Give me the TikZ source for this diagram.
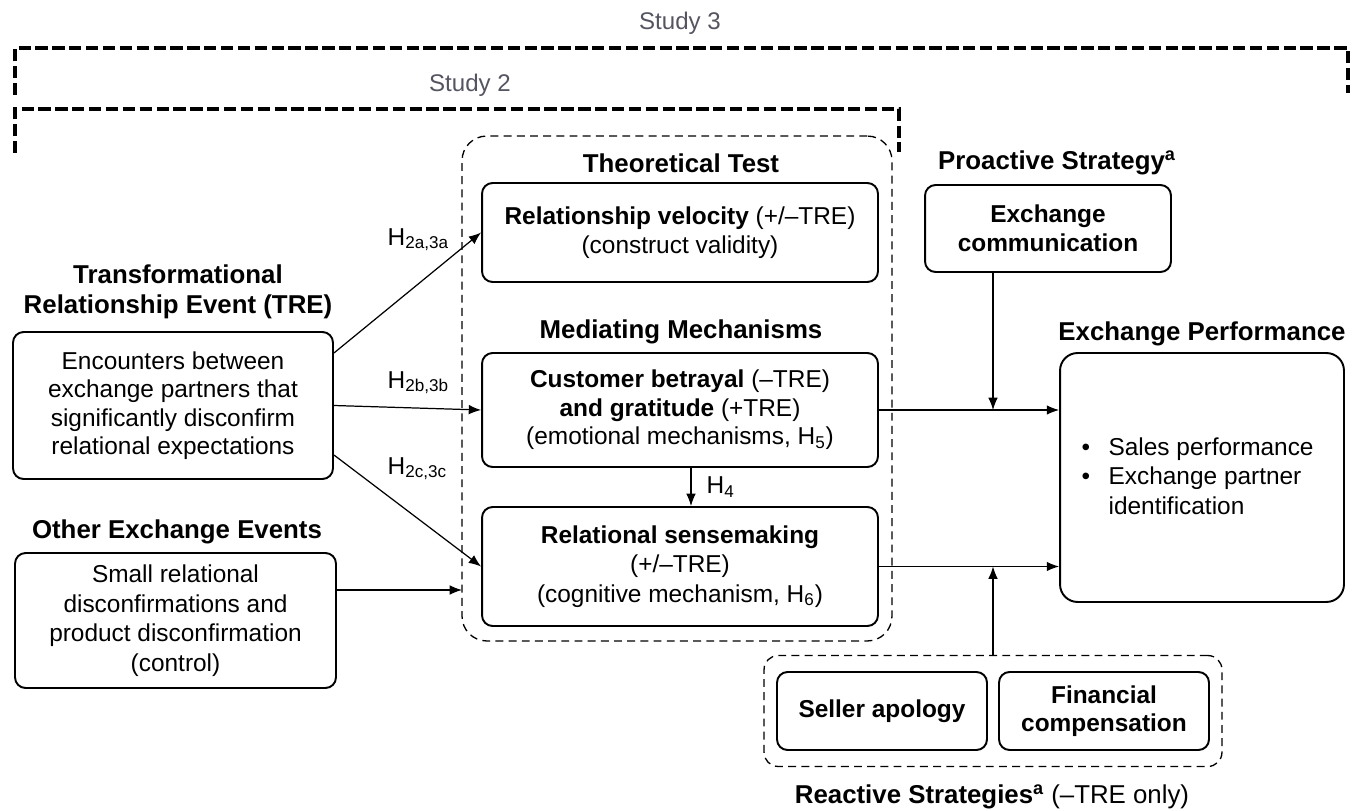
\documentclass[tikz,border=0pt]{standalone}
\usepackage{fontspec}
\setmainfont{Liberation Sans}
\usetikzlibrary{arrows.meta,fit,calc}

\definecolor{studygray}{RGB}{85,85,98}
\newcommand{\txtfont}{\fontsize{13.9}{16.2}\selectfont}
\newcommand{\headfont}{\fontsize{14.7}{17}\selectfont\bfseries}

\tikzset{
  box/.style={draw, line width=1.1pt, rounded corners=6pt, align=center, inner sep=0pt, font=\txtfont},
  boldbox/.style={box, font=\txtfont\bfseries},
  head/.style={font=\headfont, align=center, inner sep=0pt},
  study/.style={font=\fontsize{13.7}{16}\selectfont, text=studygray, inner sep=0pt},
  bracket/.style={line width=2.3pt, dash pattern=on 7pt off 2.6pt},
  group/.style={draw, line width=0.75pt, dash pattern=on 4.5pt off 3pt},
  hyp/.style={font=\txtfont, inner sep=0pt},
}

\begin{document}
\begin{tikzpicture}[x=0.02cm, y=-0.02cm, line width=0.7pt, >={Latex[length=7pt,width=5.5pt]}]
    \useasboundingbox (0,0) rectangle (1363,811);

    % 1. Study brackets
    \node[study] (s3) at (680,23) {Study 3};
    \node[study] (s2) at (470,85) {Study 2};
    \draw[bracket] (15,95) -- (15,48) -- (1348,48) -- (1348,93);
    \draw[bracket] (15,153) -- (15,109) -- (899,109) -- (899,152);

    % 2. Dashed frame round the middle column
    \node[group, rounded corners=14pt, minimum width=8.6cm, minimum height=10.1cm] (stage) at (677,388.5) {};

    % 3. Middle column
    \node[head] (tt) at (681,163) {Theoretical Test};
    \node[box, minimum width=7.92cm, minimum height=1.98cm] (velo) at (680,232.5)
        {\textbf{Relationship velocity} (+/–TRE)\\(construct validity)};
    \node[head] (mm) at (681,332) {Mediating Mechanisms};
    \node[box, minimum width=7.92cm, minimum height=2.28cm] (betr) at (680,410)
        {\textbf{Customer betrayal} (–TRE)\\\textbf{and gratitude} (+TRE)\\(emotional mechanisms, H\textsubscript{5})};
    \node[box, font=\fontsize{13.9}{16.7}\selectfont, minimum width=7.92cm, minimum height=2.38cm] (sense) at (680,566.5)
        {\textbf{Relational sensemaking}\\(+/–TRE)\\(cognitive mechanism, H\textsubscript{6})};
    \draw[->] ([xshift=0.22cm]betr.south) -- ([xshift=0.22cm]sense.north)
        node[midway, right=0.3cm, hyp] (h4) {H\textsubscript{4}};

    % 4. Left column
    \node[head] (trehead) at (178,292) {Transformational\\Relationship Event (TRE)};
    \node[box, minimum width=6.4cm, minimum height=2.94cm] (tre) at (173,405.5)
        {Encounters between\\exchange partners that\\significantly disconfirm\\relational expectations};
    \node[head] (othhead) at (177,532) {Other Exchange Events};
    \node[box, font=\fontsize{13.9}{16.8}\selectfont, minimum width=6.42cm, minimum height=2.7cm] (other) at (175.5,620.5)
        {Small relational\\disconfirmations and\\product disconfirmation\\(control)};

    % 5. Hypothesis arrows
    \draw[->] ([yshift=1.05cm]tre.east) -- (velo.west);
    \draw[->] (tre.east) -- (betr.west);
    \draw[->] ([yshift=-0.99cm]tre.east) -- (sense.west);
    \node[hyp, anchor=base west] (h2a) at (387,245) {H\textsubscript{2a,3a}};
    \node[hyp, anchor=base west] (h2b) at (387,388) {H\textsubscript{2b,3b}};
    \node[hyp, anchor=base west] (h2c) at (387,474) {H\textsubscript{2c,3c}};
    \coordinate (oin) at (462,590);
    \draw[->] (other.east |- oin) -- (oin);

    % 6. Right column
    \node[head] (prohead) at (1057,163) {Proactive Strategy\textsuperscript{a}};
    \node[boldbox, minimum width=4.92cm, minimum height=1.74cm] (comm) at (1048,228.5) {Exchange\\communication};
    \node[head] (perfhead) at (1202,334) {Exchange Performance};
    \node[box, rounded corners=10pt, minimum width=5.68cm, minimum height=4.98cm] (perf) at (1202,477.5) {};
    \node[anchor=west, inner sep=0pt, font=\fontsize{13.9}{16.7}\selectfont] (perftxt) at (1081,479)
        {\begin{tabular}{@{}l@{\hspace{10.5pt}}l@{}}
         • & Sales performance\\
         • & Exchange partner\\
           & identification
         \end{tabular}};

    % 7. Reactive strategies
    \node[boldbox, minimum width=4.2cm, minimum height=1.56cm] (apol) at (882,711) {Seller apology};
    \node[boldbox, minimum width=4.2cm, minimum height=1.56cm] (comp) at (1104,711) {Financial\\compensation};
    \node[group, rounded corners=8pt, fit=(apol)(comp), inner xsep=0.24cm, inner ysep=0.31cm] (react) {};
    \node[head] (reacthead) at (992,797) {Reactive Strategies\textsuperscript{a} \mdseries(–TRE only)};

    % 8. Paths to exchange performance
    \coordinate (up) at (react.north |- betr.east);
    \coordinate (lo) at (react.north |- sense.east);
    \draw[->] (betr.east) -- (betr.east -| perf.west);
    \draw[->] (sense.east) -- (sense.east -| perf.west);
    \draw[->] (comm.south -| up) -- (up);
    \draw[->] (react.north) -- (lo);
\end{tikzpicture}
\end{document}
